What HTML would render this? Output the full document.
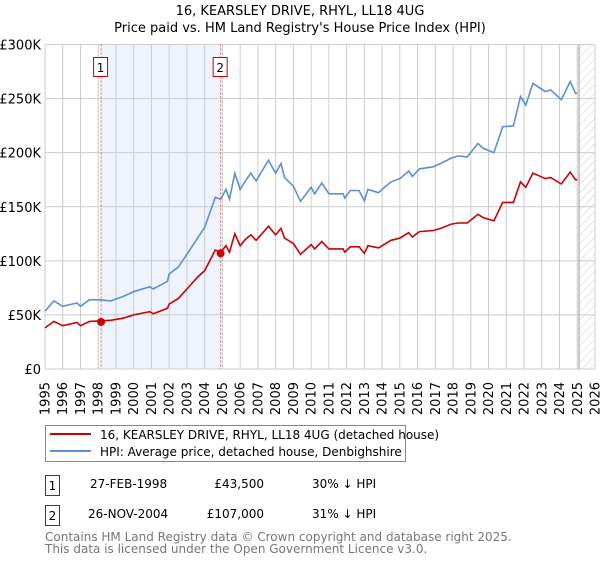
<!DOCTYPE html>
<html><head><meta charset="utf-8"><style>
body{margin:0;background:#fff;font-family:"DejaVu Sans","Liberation Sans",sans-serif;}
svg text{font-family:"DejaVu Sans","Liberation Sans",sans-serif;}
</style></head><body>
<svg width="600" height="560" viewBox="0 0 600 560" id="chart">
<defs><pattern id="hatch" width="6" height="6" patternUnits="userSpaceOnUse" patternTransform="rotate(45)"><line x1="0" y1="0" x2="0" y2="6" stroke="#ccc" stroke-width="1"/></pattern></defs>
<text x="300" y="15" text-anchor="middle" font-size="13">16, KEARSLEY DRIVE, RHYL, LL18 4UG</text>
<text x="300" y="32" text-anchor="middle" font-size="13">Price paid vs. HM Land Registry's House Price Index (HPI)</text>
<g id="plot"></g>
<g>
<rect x="45.5" y="425.5" width="360" height="36" fill="#fff" stroke="#888"/>
<line x1="50" y1="434" x2="91" y2="434" stroke="#cc0000" stroke-width="2"/>
<text x="100" y="439" font-size="12">16, KEARSLEY DRIVE, RHYL, LL18 4UG (detached house)</text>
<line x1="50" y1="451" x2="91" y2="451" stroke="#5b8fd6" stroke-width="2"/>
<text x="100" y="456" font-size="12">HPI: Average price, detached house, Denbighshire</text>
</g>
<g font-size="12">
<rect x="45.5" y="475.5" width="14" height="20" fill="#fff" stroke="#cc0000"/><text x="52.5" y="490" text-anchor="middle">1</text>
<text x="90" y="488">27-FEB-1998</text><text x="264" y="488" text-anchor="end">£43,500</text><text x="312" y="488">30% ↓ HPI</text>
<rect x="45.5" y="505.5" width="14" height="20" fill="#fff" stroke="#cc0000"/><text x="52.5" y="520" text-anchor="middle">2</text>
<text x="88" y="518">26-NOV-2004</text><text x="264" y="518" text-anchor="end">£107,000</text><text x="312" y="518">31% ↓ HPI</text>
</g>
<text x="45" y="541" font-size="12" fill="#777">Contains HM Land Registry data © Crown copyright and database right 2025.</text>
<text x="45" y="553" font-size="12" fill="#777">This data is licensed under the Open Government Licence v3.0.</text>
</svg>
<script>
const yTicks=[0,50,100,150,200,250,300];
const yTickLabels=["£0","£50K","£100K","£150K","£200K","£250K","£300K"];
const xYears=[1995,1996,1997,1998,1999,2000,2001,2002,2003,2004,2005,2006,2007,2008,2009,2010,2011,2012,2013,2014,2015,2016,2017,2018,2019,2020,2021,2022,2023,2024,2025,2026];
const dates=[1995.0,1995.5,1996.0,1996.8,1997.0,1997.5,1998.1,1998.7,1999.4,2000.0,2000.9,2001.1,2001.9,2002.0,2002.5,2003.0,2003.6,2004.0,2004.6,2004.9,2005.2,2005.4,2005.7,2006.0,2006.3,2006.6,2006.9,2007.6,2008.0,2008.3,2008.5,2009.0,2009.4,2010.0,2010.2,2010.6,2011.0,2011.8,2011.9,2012.2,2012.7,2013.0,2013.2,2013.8,2014.0,2014.5,2015.0,2015.5,2015.7,2016.1,2016.9,2017.3,2017.9,2018.3,2018.8,2019.4,2019.7,2020.3,2020.8,2021.4,2021.8,2022.1,2022.5,2023.2,2023.5,2024.1,2024.6,2024.9,2025.0];
const hpi=[53.5,63,58,61,58,64,64,63,67,71.6,76,74,81,88,94,106,121,131,158.6,157,166,157,181,166,174,181,174,193,181,190,177,169,155,168,162,172,162,162,158,165,165,155.5,166,163,166,173,176,183,178,185,187,190,195,197,196,208.6,204,200,224,224.7,252,244,264,256.5,258,249,265.7,255,255];
const price=[38,44,40,43,40,44,44.5,45,47,50,53,51,56,60,65,74,85,91,110,108,114,108,125,114,120,124,119,132,124,130,121,116,106,115,111,118,111,111,108,113,113,107,114,112,114,119,121,126,122,127,128,130,134,135,135,143,140,137,154,154,173,168,181,176,177,171,182,175,175];
const saleDates=[1998.16,2004.9];
const salePrices=[43.5,107];
const saleLabels=["1","2"];
const hatchStart=2025.1;

const L=45,R=595,T=44.5,B=369;
const xs=y=>L+(y-1995)/(2026-1995)*(R-L);
const ys=v=>B-v/300*(B-T);
const NS="http://www.w3.org/2000/svg";
const g=document.getElementById('plot');
function mk(tag,attrs,parent){const e=document.createElementNS(NS,tag);for(const k in attrs)e.setAttribute(k,attrs[k]);(parent||g).appendChild(e);return e;}
let e;
e=mk('rect',{x:xs(saleDates[0]),y:T,width:xs(saleDates[1])-xs(saleDates[0]),height:B-T,fill:'#eef3fc'});


e=mk('rect',{x:xs(hatchStart),y:T,width:R-xs(hatchStart),height:B-T,fill:'url(#hatch)'});


yTicks.forEach((t,i)=>{
 e=mk('line',{x1:L,x2:R,y1:ys(t),y2:ys(t),stroke:'#ccc','stroke-width':1});
 
 
 e=mk('text',{x:L-4,y:ys(t)+5,'text-anchor':'end','font-size':13});
 e.textContent=yTickLabels[i];
 
 
});
xYears.forEach(yr=>{
 e=mk('line',{x1:xs(yr),x2:xs(yr),y1:T,y2:B,stroke:'#ccc','stroke-width':1});
 
 
 const x=xs(yr)+4.5;
 e=mk('text',{x:x,y:382,'text-anchor':'end','font-size':13,transform:`rotate(-90 ${x} 382)`});
 e.textContent=yr;
 
 
});
e=mk('line',{x1:xs(hatchStart),x2:xs(hatchStart),y1:T,y2:B,stroke:'#999','stroke-width':1});


saleDates.forEach((d,i)=>{
 e=mk('line',{x1:xs(d),x2:xs(d),y1:T,y2:B,stroke:'#e55','stroke-width':1,'stroke-dasharray':'2,2'});
 
 
 e=mk('rect',{x:xs(d)-7.5,y:57.5,width:14,height:19,fill:'#fff',stroke:'#cc0000'});
 
 
 e=mk('text',{x:xs(d)-0.5,y:72,'text-anchor':'middle','font-size':12});
 e.textContent=saleLabels[i];
 
 
});
const path=arr=>arr.map((v,i)=>(i?'L':'M')+xs(dates[i]).toFixed(1)+','+ys(v).toFixed(1)).join('');
e=mk('path',{d:path(hpi),fill:'none',stroke:'#5b8fd6','stroke-width':1.6});


e=mk('path',{d:path(price),fill:'none',stroke:'#cc0000','stroke-width':1.6});


saleDates.forEach((d,i)=>{
 e=mk('circle',{cx:xs(d),cy:ys(salePrices[i]),r:4,fill:'#cc0000'});
 
 
});
</script>
</body></html>
